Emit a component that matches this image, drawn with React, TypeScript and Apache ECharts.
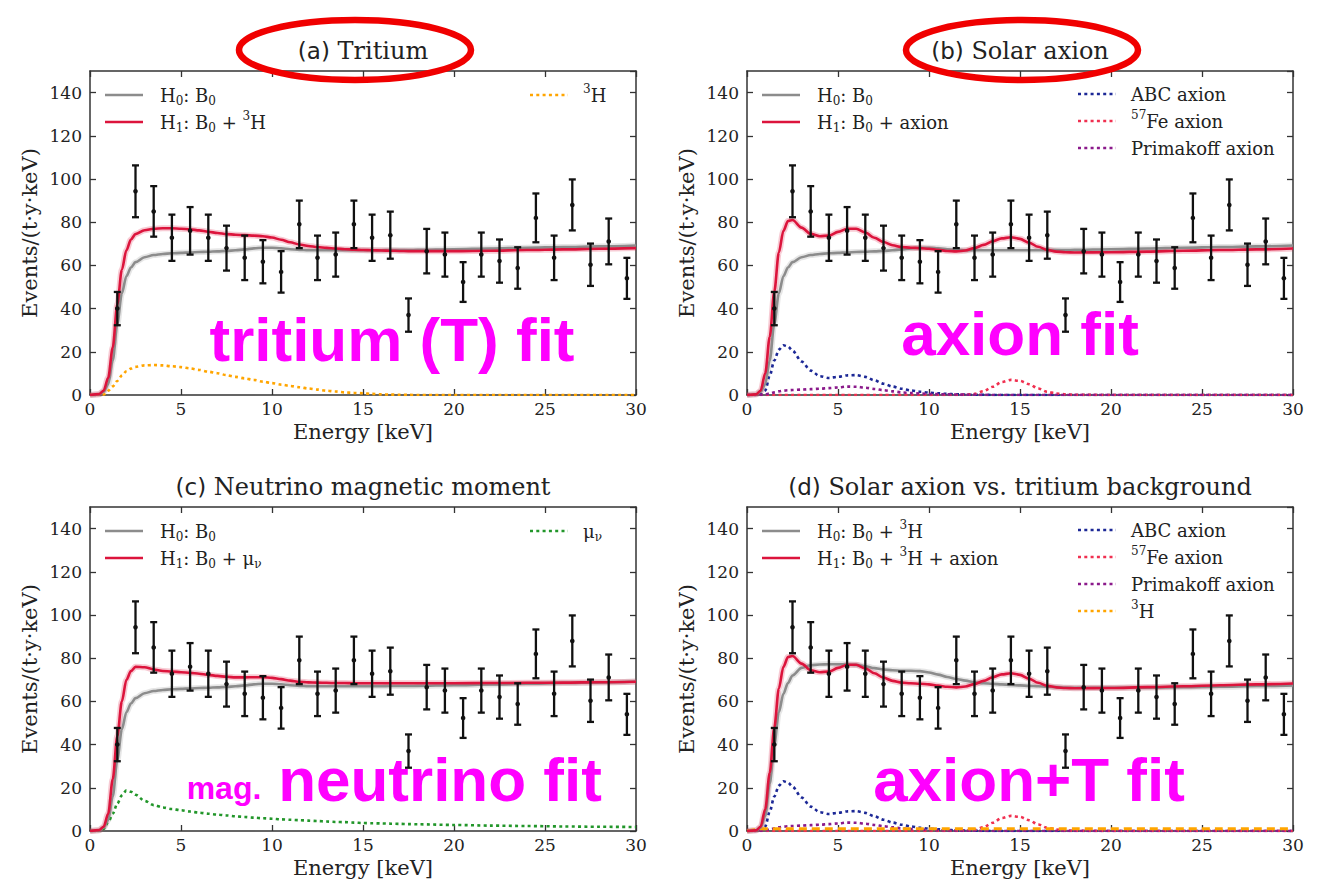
import React, { useEffect, useRef } from "react";
import * as echarts from "echarts";

// ---------------- data ----------------
const binEnergy = [1.5, 2.5, 3.5, 4.5, 5.5, 6.5, 7.5, 8.5, 9.5, 10.5, 11.5, 12.5, 13.5, 14.5, 15.5, 16.5, 17.5, 18.5, 19.5, 20.5, 21.5, 22.5, 23.5, 24.5, 25.5, 26.5, 27.5, 28.5, 29.5];
const binCounts = [40, 94.3, 85, 72.8, 76, 72.8, 68, 63.5, 61.7, 57, 79, 63.5, 65, 79, 72.8, 74, 37, 66.6, 65, 52.3, 65, 62, 58.8, 82, 63.5, 88, 60.3, 71.1, 54];
const binErrors = [7.7, 12, 11.7, 10.7, 11, 10.7, 10.4, 10.3, 10, 9.6, 11, 10.3, 10.2, 11, 10.7, 10.9, 7.7, 10.3, 10.2, 9.2, 10.2, 10, 9.6, 11.3, 10.3, 11.8, 9.8, 10.6, 9.5];

const curveEnergy = [0, 0.5, 0.75, 1, 1.25, 1.5, 1.75, 2, 2.25, 2.5, 3, 3.5, 4, 4.5, 5, 5.5, 6, 6.5, 7, 7.5, 8, 8.5, 9, 9.5, 10, 10.5, 11, 11.5, 12, 12.5, 13, 13.5, 14, 14.5, 15, 15.5, 16, 16.5, 17, 17.5, 18, 20, 22, 24, 26, 28, 30];

const b0Fit = [0, 0.3, 1.5, 5, 16, 33, 47, 55, 59, 61.5, 63.8, 64.8, 65.3, 65.6, 65.8, 66, 66.2, 66.3, 66.5, 66.7, 67, 67.4, 67.9, 68.2, 68.2, 67.9, 67.5, 67.2, 67, 67, 67, 67, 67, 67, 67, 67, 67, 67.1, 67.1, 67.1, 67.2, 67.5, 67.8, 68.2, 68.5, 68.8, 69.2];
const h1TritiumFit = [0, 0.4, 2, 8, 22, 42, 58, 67, 72, 74.5, 76.3, 77, 77.2, 77.2, 77, 76.7, 76.2, 75.6, 75, 74.5, 74.2, 74, 73.8, 73.5, 72.9, 71.9, 70.7, 69.7, 69, 68.5, 68.1, 67.8, 67.5, 67.3, 67.1, 67, 66.9, 66.8, 66.7, 66.6, 66.6, 66.6, 66.8, 67.1, 67.4, 67.7, 68];
const tritiumComp = [0, 0, 0.2, 2, 4, 6.5, 9, 11, 12.2, 13, 13.7, 13.9, 13.7, 13.3, 12.9, 12.3, 11.6, 10.8, 10.1, 9.2, 8.4, 7.7, 7, 6.2, 5.5, 4.8, 4.2, 3.6, 3, 2.5, 2, 1.6, 1.2, 1, 0.8, 0.5, 0.3, 0.2, 0.1, 0.05, 0, 0, 0, 0, 0, 0, 0];
const h1AxionFit = [0, 0.3, 2, 10, 27, 48, 66, 76, 80.5, 81, 77.5, 74.6, 73.5, 73.8, 75.5, 77, 77, 75.2, 72.8, 70.8, 69.3, 68.5, 68.2, 68, 67.7, 67.2, 66.7, 66.5, 66.9, 68, 69.5, 71.2, 72.5, 73, 72.3, 70.5, 68.6, 67.2, 66.4, 66.1, 66, 66.1, 66.4, 66.8, 67.1, 67.4, 67.8];
const abcAxion = [0, 0, 0.3, 2, 9, 16, 21, 23, 22.5, 20.5, 15.5, 11.3, 8.7, 7.9, 8.4, 9.1, 9.2, 8.4, 6.8, 5.2, 3.9, 2.9, 2.1, 1.5, 1.1, 0.8, 0.5, 0.3, 0.2, 0.1, 0.1, 0, 0, 0, 0, 0, 0, 0, 0, 0, 0, 0, 0, 0, 0, 0, 0];
const fe57Axion = [0, 0, 0, 0, 0, 0, 0, 0, 0, 0, 0, 0, 0, 0, 0, 0, 0, 0, 0, 0, 0, 0, 0, 0, 0, 0, 0, 0, 0.1, 0.5, 1.8, 3.8, 6, 7, 6.5, 5, 3, 1.5, 0.7, 0.3, 0.1, 0, 0, 0, 0, 0, 0];
const primakoffAxion = [0, 0, 0.1, 0.3, 0.7, 1.2, 1.7, 2, 2.2, 2.3, 2.5, 2.7, 2.9, 3.2, 3.5, 3.9, 3.8, 3.4, 2.8, 2.2, 1.7, 1.2, 0.9, 0.7, 0.5, 0.4, 0.3, 0.2, 0.15, 0.1, 0.05, 0, 0, 0, 0, 0, 0, 0, 0, 0, 0, 0, 0, 0, 0, 0, 0];
const h1MagMomentFit = [0, 0.4, 2, 8, 24, 44, 60, 70, 74, 76, 75.8, 74.8, 74.1, 73.8, 73.5, 73.2, 72.8, 72.3, 71.8, 71.4, 71.1, 71.1, 71.2, 71.2, 70.9, 70.3, 69.6, 69.1, 68.8, 68.7, 68.6, 68.5, 68.5, 68.4, 68.4, 68.4, 68.4, 68.4, 68.4, 68.4, 68.4, 68.4, 68.5, 68.6, 68.7, 68.9, 69.1];
const magMomentComp = [0, 0, 1, 4, 8, 12.7, 16.5, 18.8, 18.2, 16.8, 14, 12, 10.9, 10.2, 9.6, 9, 8.5, 8, 7.6, 7.2, 6.8, 6.5, 6.2, 5.9, 5.7, 5.4, 5.2, 5, 4.8, 4.6, 4.4, 4.2, 4.1, 3.9, 3.7, 3.6, 3.5, 3.4, 3.3, 3.2, 3.1, 2.8, 2.5, 2.3, 2.1, 1.95, 1.85];
const h0TritiumBkgFit = [0, 0.3, 1.5, 7, 22, 40, 55, 63.5, 68.5, 72, 75.5, 76.7, 77.1, 77.2, 77.2, 77.1, 76.9, 76.3, 75.4, 74.8, 74.4, 74.2, 74.2, 74, 73.4, 72.4, 71.3, 70.4, 69.6, 68.9, 68.4, 68.1, 67.9, 67.6, 67.4, 67.2, 67, 66.8, 66.6, 66.4, 66.3, 66.3, 66.4, 66.6, 66.8, 67.1, 67.4];
const h1TritiumAxionFit = [0, 0.3, 2, 10, 27, 48, 66, 76, 80.5, 81, 77.5, 74.4, 73.5, 73.8, 75.5, 77, 77, 75.3, 73, 71, 69.5, 68.7, 68.4, 68.2, 67.9, 67.3, 66.8, 66.5, 66.9, 68, 69.5, 71.2, 72.5, 73, 72.3, 70.5, 68.6, 67.2, 66.5, 66.2, 66.1, 66.2, 66.6, 67, 67.5, 67.9, 68.3];
const tritiumBkgComp = [0, 0.6, 1, 1, 1, 1, 1, 1, 1, 1, 1, 1, 1, 1, 1, 1, 1, 1, 1, 1, 1, 1, 1, 1, 1, 1, 1, 1, 1, 1, 1, 1, 1, 1, 1, 1, 1, 1, 1, 1, 1, 1, 1, 1, 1, 1, 1];

const panelLabels = ["(a)", "(b)", "(c)", "(d)"];
const panelTitles = ["Tritium", "Solar axion", "Neutrino magnetic moment", "Solar axion vs. tritium background"];
const annotations = ["tritium (T) fit", "axion fit", "neutrino fit", "axion+T fit"];

// ---------------- styles ----------------
const SERIF = '"DejaVu Serif", serif';
const SANS = '"DejaVu Sans", sans-serif';
const MAG_FONT = '"Liberation Sans", Arial, sans-serif';
const GRAY = "#8c8c8c";
const RED = "#dc143c";
const ORANGE = "#ffa500";
const BLUE = "#1c2896";
const FE_RED = "#f03050";
const PURPLE = "#8b1a8b";
const GREEN = "#22962a";
const DOT = [3, 3.3];
const DASH = [8, 5];

const GW = 546;
const GH = 324;
const grids = [
  { left: 90, top: 71 },
  { left: 747, top: 71 },
  { left: 90, top: 507 },
  { left: 747, top: 507 },
];

type Curve = { name: string; data: number[]; color: string; width: number; dash?: number[] | null; z: number; halo?: boolean };

const panelCurves: Curve[][] = [
  [
    { name: "a-H0", data: b0Fit, color: GRAY, width: 2.6, z: 3, halo: true },
    { name: "a-H1", data: h1TritiumFit, color: RED, width: 2.6, z: 4, halo: true },
    { name: "a-3H", data: tritiumComp, color: ORANGE, width: 2.6, dash: DOT, z: 2 },
  ],
  [
    { name: "b-H0", data: b0Fit, color: GRAY, width: 2.6, z: 3, halo: true },
    { name: "b-H1", data: h1AxionFit, color: RED, width: 2.6, z: 4, halo: true },
    { name: "b-ABC", data: abcAxion, color: BLUE, width: 2.6, dash: DOT, z: 2 },
    { name: "b-Fe", data: fe57Axion, color: FE_RED, width: 2.6, dash: DOT, z: 2 },
    { name: "b-Prim", data: primakoffAxion, color: PURPLE, width: 2.6, dash: DOT, z: 2 },
  ],
  [
    { name: "c-H0", data: b0Fit, color: GRAY, width: 2.6, z: 3, halo: true },
    { name: "c-H1", data: h1MagMomentFit, color: RED, width: 2.6, z: 4, halo: true },
    { name: "c-mu", data: magMomentComp, color: GREEN, width: 2.6, dash: DOT, z: 2 },
  ],
  [
    { name: "d-H0", data: h0TritiumBkgFit, color: GRAY, width: 2.6, z: 3, halo: true },
    { name: "d-H1", data: h1TritiumAxionFit, color: RED, width: 2.6, z: 4, halo: true },
    { name: "d-ABC", data: abcAxion, color: BLUE, width: 2.6, dash: DOT, z: 2 },
    { name: "d-Fe", data: fe57Axion, color: FE_RED, width: 2.6, dash: DOT, z: 2 },
    { name: "d-Prim", data: primakoffAxion, color: PURPLE, width: 2.6, dash: DOT, z: 2 },
    { name: "d-3H", data: tritiumBkgComp, color: ORANGE, width: 3, dash: DASH, z: 2 },
  ],
];

type LegendItem = { label: string; color: string; dash?: number[] | null };
const leftLegends: LegendItem[][] = [
  [
    { label: "{m|H}{s|0}{m|: B}{s|0}", color: GRAY },
    { label: "{m|H}{s|1}{m|: B}{s|0}{m| + }{p|3}{m|H}", color: RED },
  ],
  [
    { label: "{m|H}{s|0}{m|: B}{s|0}", color: GRAY },
    { label: "{m|H}{s|1}{m|: B}{s|0}{m| + axion}", color: RED },
  ],
  [
    { label: "{m|H}{s|0}{m|: B}{s|0}", color: GRAY },
    { label: "{m|H}{s|1}{m|: B}{s|0}{m| + μ}{s|ν}", color: RED },
  ],
  [
    { label: "{m|H}{s|0}{m|: B}{s|0}{m| + }{p|3}{m|H}", color: GRAY },
    { label: "{m|H}{s|1}{m|: B}{s|0}{m| + }{p|3}{m|H + axion}", color: RED },
  ],
];
const axionLegend: LegendItem[] = [
  { label: "{m|ABC axion}", color: BLUE, dash: DOT },
  { label: "{p|57}{m|Fe axion}", color: FE_RED, dash: DOT },
  { label: "{m|Primakoff axion}", color: PURPLE, dash: DOT },
];
const rightLegends: LegendItem[][] = [
  [{ label: "{p|3}{m|H}", color: ORANGE, dash: DOT }],
  axionLegend,
  [{ label: "{m|μ}{s|ν}", color: GREEN, dash: DOT }],
  [...axionLegend, { label: "{p|3}{m|H}", color: ORANGE, dash: DOT }],
];

const richStyles = {
  m: { fontSize: 18, fontFamily: SERIF, color: "#222", lineHeight: 24 },
  s: { fontSize: 12, fontFamily: SERIF, color: "#222", lineHeight: 12, verticalAlign: "bottom" },
  p: { fontSize: 12, fontFamily: SERIF, color: "#222", lineHeight: 12, verticalAlign: "top" },
};

const titleRich = {
  l: { fontSize: 23, fontFamily: SANS, color: "#222", lineHeight: 30 },
  t: { fontSize: 24, fontFamily: SERIF, color: "#222", lineHeight: 30 },
};

function legendElements(items: LegendItem[], lineX: number, textX: number, y0: number) {
  const els: any[] = [];
  items.forEach((it, k) => {
    const y = y0 + k * 27;
    els.push({
      type: "line",
      shape: { x1: lineX, y1: y, x2: lineX + 38, y2: y },
      style: { stroke: it.color, lineWidth: 2.6, lineDash: it.dash || null },
      z: 50,
    });
    els.push({
      type: "text",
      x: textX,
      y: y,
      style: { text: it.label, rich: richStyles, align: "left", verticalAlign: "middle", fill: "#222", font: `18px ${SERIF}` },
      z: 50,
    });
  });
  return els;
}

export default function App() {
  const ref = useRef<HTMLDivElement>(null);
  useEffect(() => {
    if (!ref.current) return;
    const chart = echarts.init(ref.current, undefined, { renderer: "svg" });

    const frame = { show: true, onZero: false, lineStyle: { color: "#333", width: 1.5 } };
    const tick = { show: true, inside: true, length: 6, lineStyle: { color: "#333", width: 1.3 } };

    const xAxis: any[] = [];
    const yAxis: any[] = [];
    grids.forEach((_, i) => {
      xAxis.push({
        type: "value", gridIndex: i, position: "bottom", min: 0, max: 30, interval: 5,
        axisLine: frame, axisTick: tick, splitLine: { show: false },
        axisLabel: { fontFamily: SERIF, fontSize: 17, color: "#222", margin: 5 },
        name: "Energy [keV]", nameLocation: "middle", nameGap: 26,
        nameTextStyle: { fontFamily: SERIF, fontSize: 21, color: "#222" },
      });
      xAxis.push({
        type: "value", gridIndex: i, position: "top", min: 0, max: 30, interval: 5,
        axisLine: frame, axisTick: tick, splitLine: { show: false }, axisLabel: { show: false },
      });
      yAxis.push({
        type: "value", gridIndex: i, position: "left", min: 0, max: 150, interval: 20,
        axisLine: frame, axisTick: tick, splitLine: { show: false },
        axisLabel: { fontFamily: SERIF, fontSize: 17, color: "#222", margin: 8, showMaxLabel: false },
        name: "Events/(t·y·keV)", nameLocation: "middle", nameGap: 50,
        nameTextStyle: { fontFamily: SERIF, fontSize: 21, color: "#222" },
      });
      yAxis.push({
        type: "value", gridIndex: i, position: "right", min: 0, max: 150, interval: 20,
        axisLine: frame, axisTick: tick, splitLine: { show: false }, axisLabel: { show: false },
      });
    });

    const points = binEnergy.map((e, k) => [e, binCounts[k], binCounts[k] - binErrors[k], binCounts[k] + binErrors[k]]);

    const series: any[] = [];
    panelCurves.forEach((curves, i) => {
      curves.forEach((c) => {
        const data = curveEnergy.map((x, k) => [x, c.data[k]]);
        if (c.halo) {
          series.push({
            type: "line", name: c.name + "-band", xAxisIndex: 2 * i, yAxisIndex: 2 * i, data,
            symbol: "none", showSymbol: false, smooth: 0.3, smoothMonotone: "x",
            lineStyle: { color: c.color, width: 6, opacity: 0.22 }, z: 1, silent: true,
          });
        }
        series.push({
          type: "line", name: c.name, xAxisIndex: 2 * i, yAxisIndex: 2 * i, data,
          symbol: "none", showSymbol: false, smooth: 0.3, smoothMonotone: "x",
          lineStyle: { color: c.color, width: c.width, type: c.dash || "solid", cap: "butt" },
          z: c.z, silent: true,
        });
      });
      series.push({
        type: "custom", name: "data-" + i, xAxisIndex: 2 * i, yAxisIndex: 2 * i,
        data: points, encode: { x: 0, y: [1, 2, 3] }, z: 10, silent: true,
        renderItem: (params: any, api: any) => {
          const x = api.value(0);
          const top = api.coord([x, api.value(3)]);
          const bot = api.coord([x, api.value(2)]);
          const c = api.coord([x, api.value(1)]);
          const st = { stroke: "#111", lineWidth: 2.3 };
          return {
            type: "group",
            children: [
              { type: "line", shape: { x1: top[0], y1: top[1], x2: bot[0], y2: bot[1] }, style: st },
              { type: "line", shape: { x1: top[0] - 3.5, y1: top[1], x2: top[0] + 3.5, y2: top[1] }, style: st },
              { type: "line", shape: { x1: bot[0] - 3.5, y1: bot[1], x2: bot[0] + 3.5, y2: bot[1] }, style: st },
              { type: "circle", shape: { cx: c[0], cy: c[1], r: 2.3 }, style: { fill: "#111" } },
            ],
          };
        },
      });
    });

    const graphic: any[] = [];
    // titles
    const titleY = [51, 51, 487, 487];
    grids.forEach((g, i) => {
      graphic.push({
        type: "text", x: g.left + GW / 2, y: titleY[i], z: 40,
        style: {
          text: `{l|${panelLabels[i]}}{t| ${panelTitles[i]}}`, rich: titleRich,
          font: `24px ${SERIF}`, fill: "#222", align: "center", verticalAlign: "middle",
        },
      });
    });
    // legends
    grids.forEach((g, i) => {
      graphic.push(...legendElements(leftLegends[i], g.left + 15, g.left + 70, g.top + 24));
      const r = g.left + GW;
      if (i === 0 || i === 2) {
        graphic.push(...legendElements(rightLegends[i], r - 106, r - 53, g.top + 24));
      } else {
        graphic.push(...legendElements(rightLegends[i], r - 215, r - 162, g.top + 23));
      }
    });
    // magenta annotations
    const magenta = { fill: "#ff00ff", align: "center", verticalAlign: "middle" };
    graphic.push({ type: "text", x: 392, y: 339, z: 60, style: { ...magenta, text: annotations[0], font: `bold 62px ${MAG_FONT}` } });
    graphic.push({ type: "text", x: 1020, y: 333, z: 60, style: { ...magenta, text: annotations[1], font: `bold 62px ${MAG_FONT}` } });
    graphic.push({ type: "text", x: 224, y: 788, z: 60, style: { ...magenta, text: "mag.", font: `bold 32px ${MAG_FONT}` } });
    graphic.push({ type: "text", x: 440, y: 779, z: 60, style: { ...magenta, text: annotations[2], font: `bold 62px ${MAG_FONT}` } });
    graphic.push({ type: "text", x: 1029, y: 779, z: 60, style: { ...magenta, text: annotations[3], font: `bold 62px ${MAG_FONT}` } });
    // red ellipses
    graphic.push({ type: "ellipse", z: 80, shape: { cx: 355, cy: 50, rx: 116, ry: 30 }, style: { fill: "none", stroke: "#f00000", lineWidth: 6.5 } });
    graphic.push({ type: "ellipse", z: 80, shape: { cx: 1022, cy: 50, rx: 116, ry: 30 }, style: { fill: "none", stroke: "#f00000", lineWidth: 6.5 } });

    chart.setOption({
      animation: false,
      backgroundColor: "#ffffff",
      textStyle: { fontFamily: SERIF },
      grid: grids.map((g) => ({ left: g.left, top: g.top, width: GW, height: GH, containLabel: false })),
      xAxis,
      yAxis,
      series,
      graphic,
    });
    return () => chart.dispose();
  }, []);

  return <div ref={ref} style={{ position: "absolute", left: 0, top: 0, width: 1322, height: 883, background: "#fff" }} />;
}
